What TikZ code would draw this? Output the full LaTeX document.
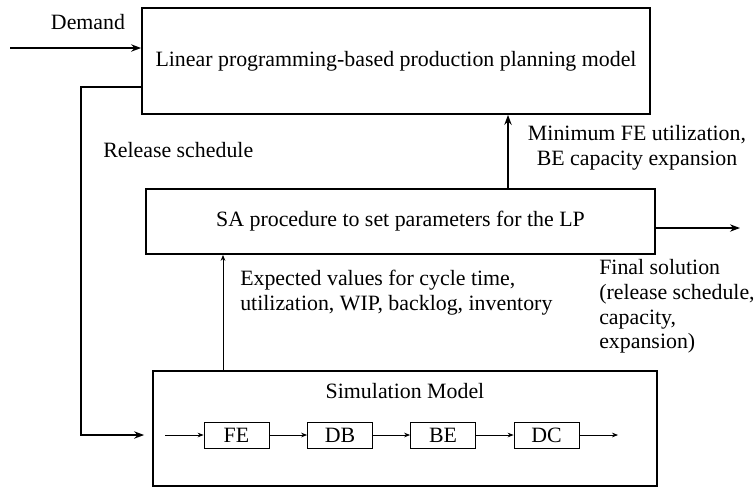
\documentclass[tikz,border=0pt]{standalone}
\usepackage{fontspec}
\setmainfont{Liberation Serif}
\usetikzlibrary{calc,positioning,arrows.meta}
\tikzset{>=stealth}

\tikzset{
  bigbox/.style={draw, line width=1.3pt, inner sep=0pt},
  unitbox/.style={draw, line width=0.6pt, minimum width=48.75pt, minimum height=19.5pt, inner sep=0pt},
  lbl/.style={inner sep=0pt},
  thickarrow/.style={-{Stealth[length=7.5pt,width=5.5pt]}, line width=1.1pt},
  thinarrow/.style={-{Stealth[length=4.5pt,width=3.5pt]}, line width=0.6pt},
}

\begin{document}
\begin{tikzpicture}[x=0.75pt, y=-0.75pt, font=\fontsize{16.4}{18.6}\selectfont]
    \useasboundingbox (0,0) rectangle (755,487);
    % main blocks
    \node[bigbox, minimum width=381pt, minimum height=79.5pt] (lp) at (396,61) {Linear programming-based production planning model};
    \node[bigbox, minimum width=381.75pt, minimum height=48.75pt] (sa) at (400.5,221.5) {SA procedure to set parameters for the LP};
    \node[bigbox, minimum width=378pt, minimum height=86.25pt] (sim) at (405,428.5) {};
    \node[lbl] (simtitle) at (405,391) {Simulation Model};
    % stations inside the simulation
    \node[unitbox] (fe) at (236.5,435) {FE};
    \node[unitbox] (db) at (340,435) {DB};
    \node[unitbox] (be) at (443,435) {BE};
    \node[unitbox] (dc) at (546.5,435) {DC};
    \coordinate (simin) at (165,435);
    \coordinate (simout) at (618,435);
    \draw[thinarrow] (simin) -- (fe);
    \draw[thinarrow] (fe) -- (db);
    \draw[thinarrow] (db) -- (be);
    \draw[thinarrow] (be) -- (dc);
    \draw[thinarrow] (dc) -- (simout);
    % demand in
    \coordinate (dem) at (10,48);
    \draw[thickarrow] (dem) -- (dem -| lp.west);
    \node[lbl] (demlbl) at (88,22) {Demand};
    % release schedule loop
    \coordinate (corner) at (81,87);
    \draw[thickarrow, shorten >=6pt] (lp.west |- corner) -- (corner) |- (sim.west |- fe);
    \node[lbl, anchor=west] (rellbl) at (103,150) {Release schedule};
    % sa to lp
    \coordinate (up) at (508,0);
    \draw[thickarrow] (sa.north -| up) -- (lp.south -| up);
    \node[lbl, align=center] (minlbl) at (637,148) {Minimum FE utilization,\\BE capacity expansion};
    % sim to sa
    \coordinate (exp) at (223,0);
    \draw[thinarrow] (sim.north -| exp) -- (sa.south -| exp);
    \node[lbl, align=left, anchor=west] (explbl) at (240,293) {Expected values for cycle time,\\utilization, WIP, backlog, inventory};
    % final solution out
    \coordinate (out) at (740,228);
    \draw[thickarrow] (sa.east |- out) -- (out);
    \node[lbl, align=left, anchor=north west] (finlbl) at (599,259) {Final solution\\(release schedule,\\capacity,\\expansion)};
\end{tikzpicture}
\end{document}
